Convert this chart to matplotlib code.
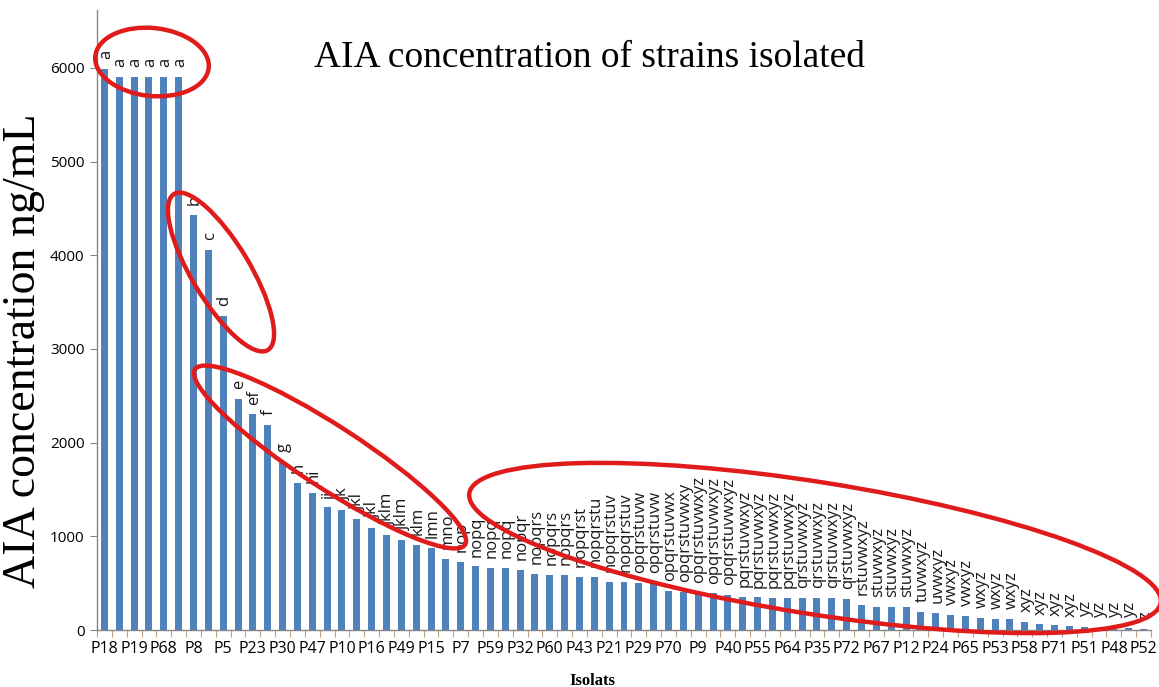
import matplotlib.pyplot as plt
import numpy as np
from matplotlib.patches import Ellipse

# AIA concentration (ng/mL), sorted as in the figure
values = [5990, 5900, 5900, 5900, 5900, 5900, 4430, 4060, 3350, 2465,
          2300, 2190, 1795, 1570, 1460, 1310, 1280, 1180, 1090, 1015,
          960, 905, 875, 760, 730, 680, 660, 660, 645, 600,
          587, 587, 565, 565, 516, 516, 505, 505, 420, 410,
          400, 390, 373, 355, 348, 345, 345, 345, 340, 340,
          330, 267, 245, 245, 245, 192, 180, 165, 150, 130,
          120, 118, 90, 60, 50, 40, 30, 25, 25, 20, 10]

letters = ['a', 'a', 'a', 'a', 'a', 'a', 'b', 'c', 'd', 'e',
           'ef', 'f', 'g', 'h', 'hi', 'ij', 'jk', 'jkl', 'jkl', 'jklm',
           'jklm', 'klm', 'lmn', 'mno', 'nop', 'nopq', 'nopq', 'nopq', 'nopqr', 'nopqrs',
           'nopqrs', 'nopqrs', 'nopqrst', 'nopqrstu', 'nopqrstuv', 'nopqrstuv', 'opqrstuvw',
           'opqrstuvw', 'opqrstuvwx', 'opqrstuvwxy',
           'opqrstuvwxyz', 'opqrstuvwxyz', 'opqrstuvwxyz', 'pqrstuvwxyz', 'pqrstuvwxyz',
           'pqrstuvwxyz', 'pqrstuvwxyz', 'qrstuvwxyz', 'qrstuvwxyz', 'qrstuvwxyz',
           'qrstuvwxyz', 'rstuvwxyz', 'stuvwxyz', 'stuvwxyz', 'stuvwxyz', 'tuvwxyz', 'uvwxyz',
           'vwxyz', 'vwxyz', 'wxyz', 'wxyz', 'wxyz', 'xyz', 'xyz', 'xyz', 'xyz',
           'yz', 'yz', 'yz', 'yz', 'z']

# only every second isolate is named on the axis
isolates = ['P18', 'P19', 'P68', 'P8', 'P5', 'P23', 'P30', 'P47', 'P10', 'P16',
            'P49', 'P15', 'P7', 'P59', 'P32', 'P60', 'P43', 'P21', 'P29', 'P70',
            'P9', 'P40', 'P55', 'P64', 'P35', 'P72', 'P67', 'P12', 'P24', 'P65',
            'P53', 'P58', 'P71', 'P51', 'P48', 'P52']

W, H = 1159, 687
fig = plt.figure(figsize=(W / 100, H / 100), dpi=100)
ax = fig.add_axes([97 / W, 57 / H, (1151 - 97) / W, (677 - 57) / H])

x = np.arange(len(values))
ax.bar(x, values, width=0.47, color='#4F81BD', zorder=2)
ax.set_xlim(-0.5, len(values) - 0.5)
ax.set_ylim(0, 6617)

for s in ['top', 'right']:
    ax.spines[s].set_visible(False)
for s in ['left', 'bottom']:
    ax.spines[s].set_color('#868686')
    ax.spines[s].set_linewidth(1.0)

ax.set_yticks(range(0, 6001, 1000))
ax.tick_params(axis='y', length=5, color='#868686', labelsize=11, pad=4)
for lab in ax.get_yticklabels():
    lab.set_family('Open Sans')

ax.set_xticks(np.arange(-0.5, len(values), 1))
ax.set_xticklabels([])
ax.tick_params(axis='x', which='major', length=5, color='#BFA58A')
ax.set_xticks(x[::2], minor=True)
ax.set_xticklabels(isolates, minor=True, family='Open Sans', fontsize=11.5)
ax.tick_params(axis='x', which='minor', length=0, pad=8)

for i, (v, t) in enumerate(zip(values, letters)):
    ax.annotate(t, (i, v), xytext=(1, 7), textcoords='offset points',
                rotation=90, ha='center', va='bottom', fontsize=12,
                family='Open Sans', color='#1A1A1A')

fig.text(590 / W, 1 - 58 / H, 'AIA concentration of strains isolated',
         family='Liberation Serif', fontsize=27, ha='center', va='center')
fig.text(24 / W, 1 - 351 / H, 'AIA concentration ng/mL', rotation=90,
         family='Liberation Serif', fontsize=33, ha='center', va='center')
fig.text(592 / W, 1 - 681 / H, 'Isolats', family='Liberation Serif',
         fontsize=12, fontweight='bold', ha='center', va='center')


def ring(cx, cy, w, h, angle):
    fig.add_artist(Ellipse((cx / 100, (H - cy) / 100), w / 100, h / 100, angle=angle,
                           transform=fig.dpi_scale_trans, fill=False,
                           edgecolor='#E01B1B', linewidth=3.2, clip_on=False, zorder=5))


ring(152, 62, 114, 68, -6)
ring(221, 272, 182, 58, -59)
ring(330, 457, 322, 62, -33)
ring(815, 548, 700, 132, -9)

fig.savefig('out.png', dpi=100)
